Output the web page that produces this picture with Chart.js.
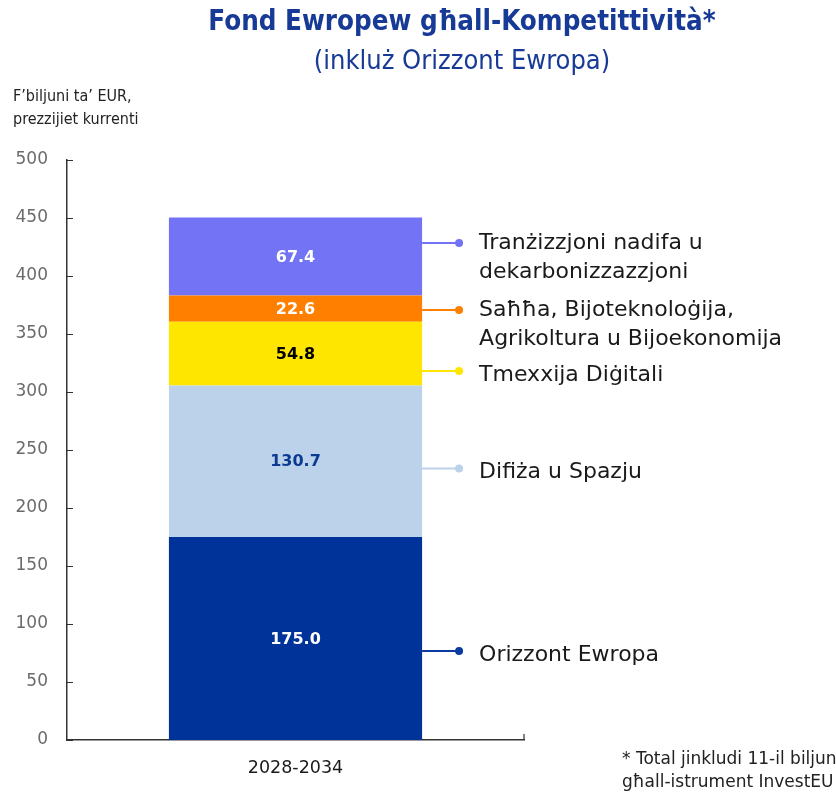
<!DOCTYPE html>
<html>
<head>
<meta charset="utf-8">
<script src="https://cdn.jsdelivr.net/npm/chart.js@4.4.1/dist/chart.umd.min.js"></script>
<style>
    html, body { margin: 0; padding: 0; background: #fff; }
    #wrap { width: 836px; height: 793px; position: relative; }
</style>
</head>
<body>
<div id="wrap"><canvas id="chart"></canvas></div>
<script>
const periods = ['2028-2034'];
const seriesNames = [
    ['Orizzont Ewropa'],
    ['Difiża u Spazju'],
    ['Tmexxija Diġitali'],
    ['Saħħa, Bijoteknoloġija,', 'Agrikoltura u Bijoekonomija'],
    ['Tranżizzjoni nadifa u', 'dekarbonizzazzjoni']
];
const seriesValues = [175.0, 130.7, 54.8, 22.6, 67.4];
const seriesColors = ['#003399', '#bcd2ea', '#ffe600', '#ff8000', '#7373f5'];
const valueLabelColors = ['#ffffff', '#0b3a93', '#000000', '#ffffff', '#ffffff'];
const connectorColors = ['#0b3aa0', '#bcd2ea', '#ffe600', '#ff8000', '#7373f5'];
// value on the y scale where each legend pointer sits
const pointerValues = [76.7, 234, 318, 370.7, 428.4];
const yTicks = [0, 50, 100, 150, 200, 250, 300, 350, 400, 450, 500];

const legendFont = '22px "DejaVu Sans"';

const annotations = {
    id: 'annotations',
    afterDatasetsDraw(chart) {
        const { ctx, scales: { x, y }, chartArea } = chart;
        ctx.save();

        // value labels inside the segments
        chart.data.datasets.forEach((ds, i) => {
            const bar = chart.getDatasetMeta(i).data[0];
            const mid = (bar.y + bar.base) / 2;
            ctx.font = 'bold 16px "DejaVu Sans"';
            ctx.fillStyle = valueLabelColors[i];
            ctx.textAlign = 'center';
            ctx.textBaseline = 'middle';
            ctx.fillText(ds.data[0].toFixed(1), bar.x, mid + 1);

            // pointer line + dot + legend text
            const py = y.getPixelForValue(pointerValues[i]);
            const x0 = bar.x + bar.width / 2;
            const x1 = x0 + 37;
            ctx.strokeStyle = connectorColors[i];
            ctx.lineWidth = 2;
            ctx.beginPath();
            ctx.moveTo(x0, py);
            ctx.lineTo(x1, py);
            ctx.stroke();
            ctx.fillStyle = connectorColors[i];
            ctx.beginPath();
            ctx.arc(x1, py, 4, 0, Math.PI * 2);
            ctx.fill();

            const lines = seriesNames[i];
            ctx.font = legendFont;
            ctx.fillStyle = '#1a1a1a';
            ctx.textAlign = 'left';
            const start = lines.length > 1 ? py : py + 4;
            lines.forEach((l, j) => ctx.fillText(l, x1 + 20, start + j * 29));
        });

        // inward tick marks
        ctx.strokeStyle = '#333';
        ctx.lineWidth = 1.2;
        ctx.beginPath();
        yTicks.forEach(v => {
            const ty = Math.round(y.getPixelForValue(v)) + 0.5;
            ctx.moveTo(chartArea.left, ty);
            ctx.lineTo(chartArea.left + 6, ty);
        });
        ctx.moveTo(chartArea.right, chartArea.bottom);
        ctx.lineTo(chartArea.right, chartArea.bottom - 6);
        ctx.stroke();

        // titles and notes
        ctx.textAlign = 'center';
        ctx.textBaseline = 'middle';
        ctx.fillStyle = '#173a96';
        ctx.font = 'bold 27.5px "Liberation Sans Narrow", "DejaVu Sans Condensed"';
        ctx.fillText('Fond Ewropew għall-Kompetittività*', 462, 23);
        ctx.font = '27px "Liberation Sans Narrow", "DejaVu Sans Condensed"';
        ctx.fillText('(inkluż Orizzont Ewropa)', 462, 62);

        ctx.textAlign = 'left';
        ctx.fillStyle = '#222';
        ctx.font = '16px "Liberation Sans Narrow", "DejaVu Sans Condensed"';
        ctx.fillText('F’biljuni ta’ EUR,', 13, 97);
        ctx.fillText('prezzijiet kurrenti', 13, 120);

        ctx.font = '17px "DejaVu Sans"';
        ctx.fillText('* Total jinkludi 11-il biljun', 622, 760);
        ctx.fillText('għall-istrument InvestEU', 622, 783);
        ctx.restore();
    }
};

new Chart(document.getElementById('chart'), {
    type: 'bar',
    data: {
        labels: periods,
        datasets: seriesValues.map((v, i) => ({
            label: seriesNames[i].join(' '),
            data: [v],
            backgroundColor: seriesColors[i],
            borderWidth: 0,
            categoryPercentage: 1,
            barPercentage: 0.554
        }))
    },
    plugins: [annotations],
    options: {
        responsive: true,
        maintainAspectRatio: false,
        animation: false,
        layout: { padding: { top: 160, right: 312, left: 0, bottom: 0 } },
        plugins: {
            legend: { display: false },
            tooltip: { enabled: false }
        },
        scales: {
            x: {
                stacked: true,
                afterFit: s => { s.height = 53; },
                grid: { display: false, drawTicks: false },
                border: { color: '#333', width: 1.5 },
                ticks: { color: '#1a1a1a', padding: 18, font: { family: 'DejaVu Sans', size: 17.5 } }
            },
            y: {
                stacked: true,
                min: 0,
                max: 500,
                afterFit: s => { s.width = 67; },
                afterBuildTicks: s => { s.ticks = yTicks.map(value => ({ value })); },
                grid: { display: false, drawTicks: false },
                border: { color: '#333', width: 1.5 },
                ticks: { color: '#6b6b6b', padding: 19, font: { family: 'DejaVu Sans', size: 17 } }
            }
        }
    }
});
</script>
</body>
</html>
